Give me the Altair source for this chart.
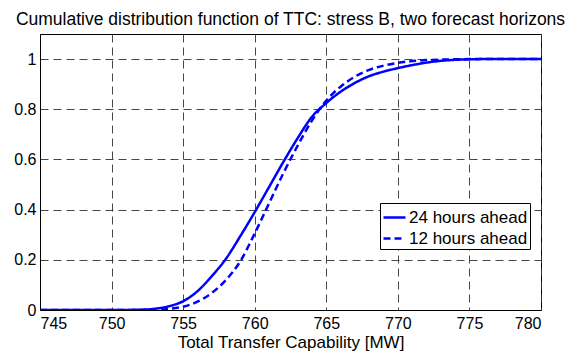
import altair as alt
import pandas as pd

# Values
x_mw = [745, 750, 751, 752, 753, 754, 755, 756, 757, 758, 759, 760, 761, 762,
        763, 764, 765, 766, 767, 768, 769, 770, 771, 772, 773, 774, 775, 776,
        777, 780]
cdf_24h = [0.0, 0.0, 0.0003, 0.001, 0.005, 0.015, 0.035, 0.075, 0.135, 0.205,
           0.295, 0.39, 0.49, 0.59, 0.685, 0.77, 0.825, 0.87, 0.905, 0.932,
           0.95, 0.964, 0.976, 0.986, 0.993, 0.997, 0.999, 1.0, 1.0, 1.0]
cdf_12h = [0.0, 0.0, 0.0, 0.0005, 0.002, 0.005, 0.013, 0.033, 0.068, 0.12,
           0.195, 0.305, 0.425, 0.545, 0.655, 0.755, 0.835, 0.89, 0.93, 0.957,
           0.974, 0.985, 0.992, 0.996, 0.998, 0.999, 1.0, 1.0, 1.0, 1.0]
series_names = ["24 hours ahead", "12 hours ahead"]
x_ticks = [745, 750, 755, 760, 765, 770, 775, 780]
y_ticks = [0, 0.2, 0.4, 0.6, 0.8, 1]

rows = []
for name, vals in zip(series_names, [cdf_24h, cdf_12h]):
    for xv, yv in zip(x_mw, vals):
        rows.append({"x": xv, "y": yv, "series": name})
df = pd.DataFrame(rows)

FONT = "Liberation Sans"

chart = alt.Chart(df).mark_line(
    color="#0000ff", strokeWidth=2.5, interpolate="monotone", clip=True
).encode(
    x=alt.X("x:Q", scale=alt.Scale(domain=[745, 780], nice=False, zero=False),
            axis=alt.Axis(values=x_ticks, title="Total Transfer Capability [MW]",
                          format="d")),
    y=alt.Y("y:Q", scale=alt.Scale(domain=[0, 1.1], nice=False),
            axis=alt.Axis(values=y_ticks, format="~g", title=None)),
    strokeDash=alt.StrokeDash(
        "series:N",
        scale=alt.Scale(domain=series_names, range=[[1, 0], [7, 4]]),
        legend=alt.Legend(
            title=None, orient="none", legendX=340, legendY=169,
            symbolType="stroke", symbolStrokeColor="#0000ff",
            symbolStrokeWidth=2.5, symbolSize=484,
            labelFont=FONT, labelFontSize=17, labelColor="black",
            labelOffset=2, labelLimit=0,
            strokeColor="black", fillColor="white", padding=2,
            rowPadding=0, cornerRadius=0,
        ),
    ),
    detail="series:N",
).properties(
    width=501,
    height=276,
    title=alt.TitleParams(
        "Cumulative distribution function of TTC: stress B, two forecast horizons",
        font=FONT, fontSize=17.5, fontWeight="normal", color="black",
        anchor="middle", offset=6,
    ),
    autosize=alt.AutoSizeParams(type="none"),
    padding={"left": 32, "top": 26, "right": 24, "bottom": 42},
).configure_view(
    stroke="black", strokeWidth=1
).configure_axis(
    labelFont=FONT, labelFontSize=16, labelColor="black",
    titleFont=FONT, titleFontSize=17, titleFontWeight="normal", titleColor="black",
    domainColor="black", domainWidth=1, ticks=False,
    grid=True, gridColor="#333", gridDash=[8, 5], gridWidth=1, gridOpacity=0.9,
).configure_axisX(
    labelPadding=5, titlePadding=3
).configure_axisY(
    labelPadding=4
)

chart.save("out.html", embed_options={"renderer": "svg", "actions": False})
